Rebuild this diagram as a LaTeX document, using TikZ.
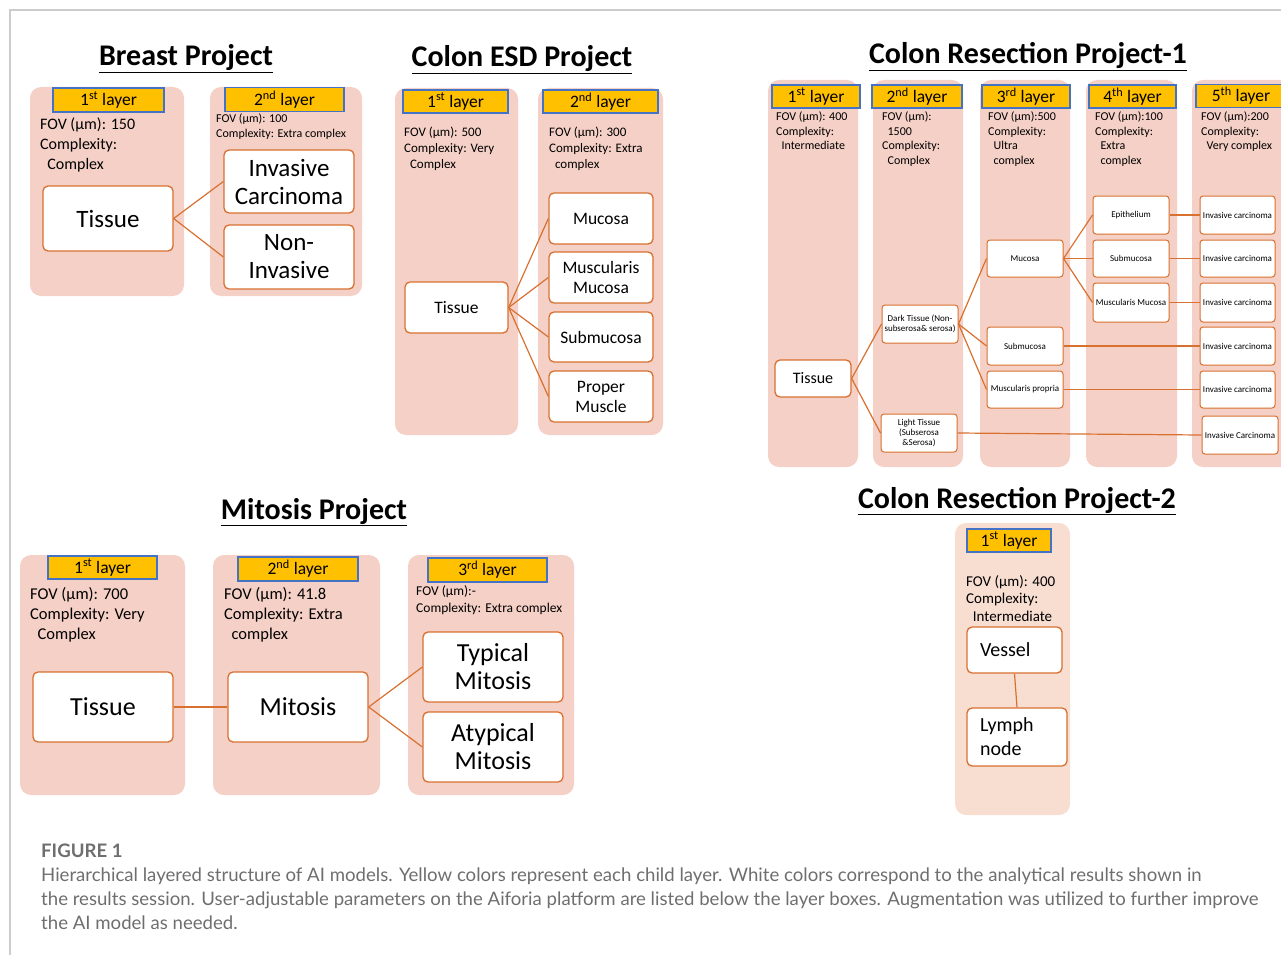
\documentclass[tikz,border=0pt]{standalone}
\usepackage{fontspec}
\setmainfont{Carlito}
\newfontfamily\capfont{Lato}
\usetikzlibrary{positioning}
\definecolor{panelpink}{HTML}{F4D0C6}
\definecolor{panellight}{HTML}{F8DDD1}
\definecolor{layeryellow}{HTML}{FFC000}
\definecolor{layerblue}{HTML}{4472C4}
\definecolor{boxline}{HTML}{D8702F}
\definecolor{framegray}{HTML}{CCCCCC}
\definecolor{capgray}{HTML}{6E6E6E}

\begin{document}
\begin{tikzpicture}[x=1pt,y=-1pt,
    panel/.style={fill=panelpink,rounded corners=11pt},
    layer/.style={draw=layerblue,fill=layeryellow,line width=1.6pt,inner sep=0pt,font=\fontsize{17.5}{20}\selectfont},
    info/.style={anchor=north west,align=left,inner sep=0pt},
    res/.style={draw=boxline,fill=white,line width=1.3pt,rounded corners=5pt,align=center,inner sep=1pt},
    tiny/.style={res,line width=1pt,rounded corners=3pt,font=\fontsize{9}{10}\selectfont},
    link/.style={draw=boxline,line width=1.2pt},
    title/.style={anchor=base,font=\bfseries\fontsize{30}{34}\selectfont}]
        \useasboundingbox (0,0) rectangle (1281,955);
        \draw[framegray,line width=1.2pt] (10,955) -- (10,10) -- (1281,10);

        \fill[panel] (30,87) rectangle (184,296);
        \fill[panel] (210,87) rectangle (362,296);
        \node[title] (tBreast) at (186,66) {\underline{Breast Project}};
        \node[layer,minimum width=111,minimum height=24] (bL1) at (108.5,100) {1\textsuperscript{st} layer};
        \node[layer,minimum width=119,minimum height=24] (bL2) at (284.5,99.5) {2\textsuperscript{nd} layer};
        \node[info,font=\fontsize{16}{20}\selectfont] (bI1) at (40,118) {FOV (µm): 150\\Complexity:\\\hspace*{.45em}Complex};
        \node[info,font=\fontsize{12}{15}\selectfont] (bI2) at (216,114) {FOV (µm): 100\\Complexity: Extra complex};
        \node[res,font=\fontsize{25}{28}\selectfont,minimum width=130,minimum height=65] (bTissue) at (108,218.5) {Tissue};
        \node[res,font=\fontsize{25}{28}\selectfont,minimum width=130,minimum height=63] (bInv) at (289,181.5) {Invasive\\Carcinoma};
        \node[res,font=\fontsize{25}{28}\selectfont,minimum width=130,minimum height=64] (bNon) at (289,257) {Non-\\Invasive};
        \draw[link] (bTissue.east) -- (bInv.west);
        \draw[link] (bTissue.east) -- (bNon.west);

        \fill[panel] (395,88) rectangle (518,435);
        \fill[panel] (538,88) rectangle (663,435);
        \node[title] (tEsd) at (522,67) {\underline{Colon ESD Project}};
        \node[layer,minimum width=105,minimum height=23] (eL1) at (455.5,101.5) {1\textsuperscript{st} layer};
        \node[layer,minimum width=115,minimum height=23] (eL2) at (600.5,101.5) {2\textsuperscript{nd} layer};
        \node[info,font=\fontsize{13}{16}\selectfont] (eI1) at (404,127) {FOV (µm): 500\\Complexity: Very\\\hspace*{.45em}Complex};
        \node[info,font=\fontsize{13}{16}\selectfont] (eI2) at (549,127) {FOV (µm): 300\\Complexity: Extra\\\hspace*{.45em}complex};
        \node[res,font=\fontsize{17.5}{20}\selectfont,minimum width=103,minimum height=51] (eTissue) at (456.5,307.5) {Tissue};
        \node[res,font=\fontsize{17.5}{20}\selectfont,minimum width=104,minimum height=51] (eMuc) at (601,218.5) {Mucosa};
        \node[res,font=\fontsize{17.5}{20}\selectfont,minimum width=104,minimum height=51] (eMusMuc) at (601,277.5) {Muscularis\\Mucosa};
        \node[res,font=\fontsize{17.5}{20}\selectfont,minimum width=104,minimum height=50] (eSub) at (601,337) {Submucosa};
        \node[res,font=\fontsize{17.5}{20}\selectfont,minimum width=104,minimum height=51] (eProp) at (601,396.5) {Proper\\Muscle};
        \foreach \t in {eMuc,eMusMuc,eSub,eProp}
            \draw[link] (eTissue.east) -- (\t.west);

        \fill[panel] (768,80) rectangle (858,467);
        \fill[panel] (873,80) rectangle (963,467);
        \fill[panel] (980,80) rectangle (1070,467);
        \fill[panel] (1086,80) rectangle (1177,467);
        \fill[panel] (1192,80) rectangle (1295,467);
        \node[title] (tRes1) at (1028,64) {\underline{Colon Resection Project-1}};
        \node[layer,minimum width=88,minimum height=23] (rL1) at (816,96.5) {1\textsuperscript{st} layer};
        \node[layer,minimum width=90,minimum height=23] (rL2) at (917,96.5) {2\textsuperscript{nd} layer};
        \node[layer,minimum width=88,minimum height=23] (rL3) at (1026,96.5) {3\textsuperscript{rd} layer};
        \node[layer,minimum width=87,minimum height=23] (rL4) at (1132.5,96.5) {4\textsuperscript{th} layer};
        \node[layer,minimum width=90,minimum height=23] (rL5) at (1241,96) {5\textsuperscript{th} layer};
        \node[info,font=\fontsize{12}{14.5}\selectfont] (rI1) at (776,112) {FOV (µm): 400\\Complexity:\\\hspace*{.45em}Intermediate};
        \node[info,font=\fontsize{12}{14.5}\selectfont] (rI2) at (882,112) {FOV (µm):\\\hspace*{.45em}1500\\Complexity:\\\hspace*{.45em}Complex};
        \node[info,font=\fontsize{12}{14.5}\selectfont] (rI3) at (988,112) {FOV (µm):500\\Complexity:\\\hspace*{.45em}Ultra\\\hspace*{.45em}complex};
        \node[info,font=\fontsize{12}{14.5}\selectfont] (rI4) at (1095,112) {FOV (µm):100\\Complexity:\\\hspace*{.45em}Extra\\\hspace*{.45em}complex};
        \node[info,font=\fontsize{12}{14.5}\selectfont] (rI5) at (1201,112) {FOV (µm):200\\Complexity:\\\hspace*{.45em}Very complex};
        \node[res,font=\fontsize{16}{18}\selectfont,minimum width=76,minimum height=37] (rTissue) at (813,378.5) {Tissue};
        \node[tiny,minimum width=76,minimum height=38] (rDark) at (920,324) {Dark Tissue (Non-\\subserosa\& serosa)};
        \node[tiny,minimum width=76,minimum height=38] (rLight) at (919,433) {Light Tissue\\(Subserosa\\\&Serosa)};
        \node[tiny,minimum width=76,minimum height=37] (rMuc) at (1025,258.5) {Mucosa};
        \node[tiny,minimum width=76,minimum height=38] (rSub) at (1025,346) {Submucosa};
        \node[tiny,minimum width=76,minimum height=37] (rMusProp) at (1025,389.5) {Muscularis propria};
        \node[tiny,minimum width=76,minimum height=38] (rEpi) at (1131,215) {Epithelium};
        \node[tiny,minimum width=76,minimum height=37] (rSubMuc) at (1131,258.5) {Submucosa};
        \node[tiny,minimum width=76,minimum height=39] (rMusMuc) at (1131,302.5) {Muscularis Mucosa};
        \node[tiny,minimum width=75,minimum height=38] (rIc1) at (1237.5,215) {Invasive carcinoma};
        \node[tiny,minimum width=75,minimum height=37] (rIc2) at (1237.5,258.5) {Invasive carcinoma};
        \node[tiny,minimum width=75,minimum height=39] (rIc3) at (1237.5,302.5) {Invasive carcinoma};
        \node[tiny,minimum width=75,minimum height=38] (rIc4) at (1237.5,346) {Invasive carcinoma};
        \node[tiny,minimum width=75,minimum height=37] (rIc5) at (1237.5,389.5) {Invasive carcinoma};
        \node[tiny,minimum width=76,minimum height=38] (rIc6) at (1240,435) {Invasive Carcinoma};
        \draw[link] (rTissue.east) -- (rDark.west);
        \draw[link] (rTissue.east) -- (rLight.west);
        \foreach \t in {rMuc,rSub,rMusProp}
            \draw[link] (rDark.east) -- (\t.west);
        \foreach \t in {rEpi,rSubMuc,rMusMuc}
            \draw[link] (rMuc.east) -- (\t.west);
        \draw[link] (rEpi.east) -- (rIc1.west);
        \draw[link] (rSubMuc.east) -- (rIc2.west);
        \draw[link] (rMusMuc.east) -- (rIc3.west);
        \draw[link] (rSub.east) -- (rIc4.west);
        \draw[link] (rMusProp.east) -- (rIc5.west);
        \draw[link] (rLight.east) -- (rIc6.west);

        \fill[panel] (20,555) rectangle (185,795);
        \fill[panel] (213,555) rectangle (380,795);
        \fill[panel] (408,555) rectangle (574,795);
        \node[title] (tMit) at (314,519) {\underline{Mitosis Project}};
        \node[layer,minimum width=109,minimum height=23] (mL1) at (102.5,567.5) {1\textsuperscript{st} layer};
        \node[layer,minimum width=120,minimum height=24] (mL2) at (298,569) {2\textsuperscript{nd} layer};
        \node[layer,minimum width=119,minimum height=24] (mL3) at (487.5,570) {3\textsuperscript{rd} layer};
        \node[info,font=\fontsize{16.5}{20}\selectfont] (mI1) at (30,587) {FOV (µm): 700\\Complexity: Very\\\hspace*{.45em}Complex};
        \node[info,font=\fontsize{16.5}{20}\selectfont] (mI2) at (224,587) {FOV (µm): 41.8\\Complexity: Extra\\\hspace*{.45em}complex};
        \node[info,font=\fontsize{13.5}{17}\selectfont] (mI3) at (416,585) {FOV (µm):-\\Complexity: Extra complex};
        \node[res,font=\fontsize{26}{28}\selectfont,minimum width=140,minimum height=70] (mTissue) at (103,707) {Tissue};
        \node[res,font=\fontsize{26}{28}\selectfont,minimum width=140,minimum height=70] (mMit) at (298,707) {Mitosis};
        \node[res,font=\fontsize{26}{28}\selectfont,minimum width=140,minimum height=70] (mTyp) at (493,667) {Typical\\Mitosis};
        \node[res,font=\fontsize{26}{28}\selectfont,minimum width=140,minimum height=70] (mAtyp) at (493,747) {Atypical\\Mitosis};
        \draw[link] (mTissue.east) -- (mMit.west);
        \draw[link] (mMit.east) -- (mTyp.west);
        \draw[link] (mMit.east) -- (mAtyp.west);

        \fill[panel,fill=panellight] (955,523) rectangle (1070,815);
        \node[title] (tRes2) at (1017,508) {\underline{Colon Resection Project-2}};
        \node[layer,minimum width=84,minimum height=23] (sL1) at (1009,540.5) {1\textsuperscript{st} layer};
        \node[info,font=\fontsize{15}{17.5}\selectfont] (sI1) at (966,575) {FOV (µm): 400\\Complexity:\\\hspace*{.45em}Intermediate};
        \node[res,font=\fontsize{20}{24}\selectfont,align=left,text width=69,inner xsep=13,minimum height=46] (sVessel) at (1014.5,650) {Vessel};
        \node[res,font=\fontsize{20}{24}\selectfont,align=left,text width=74,inner xsep=13,minimum height=58] (sLymph) at (1017,737) {Lymph\\node};
        \draw[link] (sVessel.south) -- (sLymph.north);

        \node[anchor=north west,align=left,inner sep=0pt,text=capgray,font=\capfont\fontsize{18.6}{24}\selectfont] (cap) at (41,844)
            {{\bfseries FIGURE 1}\\Hierarchical layered structure of AI models. Yellow colors represent each child layer. White colors correspond to the analytical results shown in\\the results session. User-adjustable parameters on the Aiforia platform are listed below the layer boxes. Augmentation was utilized to further improve\\the AI model as needed.};
    \end{tikzpicture}
\end{document}
